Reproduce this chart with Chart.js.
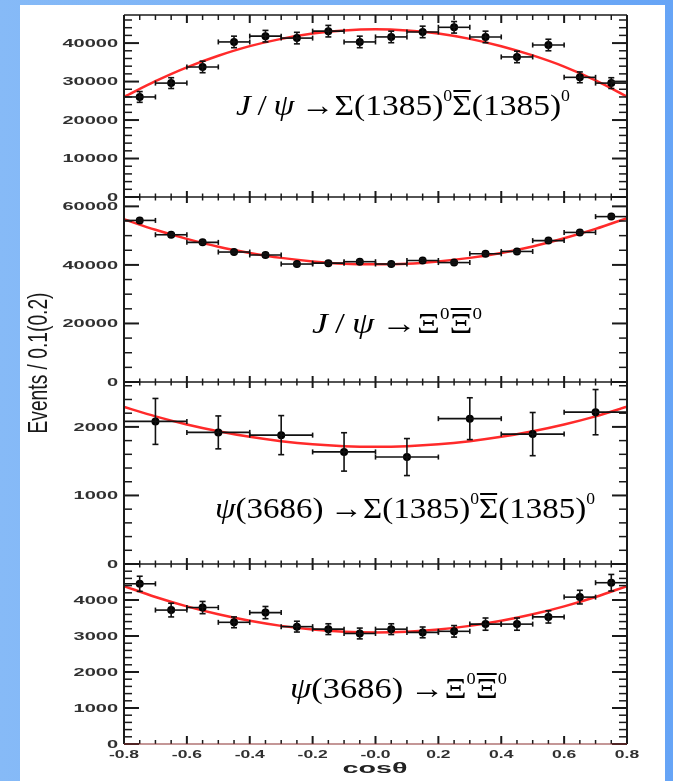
<!DOCTYPE html>
<html>
<head>
<meta charset="utf-8">
<script src="https://cdn.jsdelivr.net/npm/chart.js@4.4.1/dist/chart.umd.min.js"></script>
<style>
  html, body { margin: 0; padding: 0; }
  body { width: 673px; height: 781px; overflow: hidden;
         background: linear-gradient(to right, #86baf7 0%, #78b0f6 50%, #66a4f6 100%); }
  #panel { position: absolute; left: 20px; top: 5px; width: 645px; height: 776px; background: #fff; }
  #chart { position: absolute; left: 0; top: 0; }
</style>
</head>
<body>
<div id="panel"><canvas id="chart" width="645" height="776"></canvas></div>
<script>
// bin centres in cos(theta)
const cosFine = [-0.75, -0.65, -0.55, -0.45, -0.35, -0.25, -0.15, -0.05, 0.05, 0.15, 0.25, 0.35, 0.45, 0.55, 0.65, 0.75];
const cosWide = [-0.7, -0.5, -0.3, -0.1, 0.1, 0.3, 0.5, 0.7];
const cosFit  = [-0.8, -0.7, -0.6, -0.5, -0.4, -0.3, -0.2, -0.1, 0, 0.1, 0.2, 0.3, 0.4, 0.5, 0.6, 0.7, 0.8];

// J/psi -> Sigma(1385)0 anti-Sigma(1385)0
const jpsiSigmaY   = [26000, 29600, 33800, 40300, 41800, 41300, 43100, 40300, 41600, 42900, 44100, 41600, 36400, 39500, 31100, 29600];
const jpsiSigmaErr = [1400, 1400, 1500, 1500, 1500, 1500, 1500, 1500, 1500, 1500, 1500, 1500, 1500, 1500, 1400, 1400];
const jpsiSigmaFit = [26000, 30100, 33700, 36700, 39200, 41100, 42500, 43300, 43600, 43300, 42500, 41100, 39200, 36800, 33900, 30300, 26100];

// J/psi -> Xi0 anti-Xi0
const jpsiXiY   = [55200, 50300, 47700, 44400, 43400, 40300, 40600, 41100, 40300, 41500, 40800, 43800, 44600, 48300, 51100, 56500];
const jpsiXiErr = [600, 600, 600, 600, 600, 600, 600, 600, 600, 600, 600, 600, 600, 600, 600, 600];
const jpsiXiFit = [55600, 52000, 48900, 46200, 44100, 42400, 41200, 40400, 40200, 40400, 41200, 42400, 44100, 46300, 49100, 52300, 56000];

// psi(3686) -> Sigma(1385)0 anti-Sigma(1385)0
const psiSigmaY   = [2080, 1920, 1880, 1635, 1560, 2120, 1895, 2215];
const psiSigmaErr = [335, 240, 285, 280, 270, 305, 315, 330];
const psiSigmaFit = [2290, 2154, 2036, 1937, 1855, 1792, 1746, 1719, 1710, 1719, 1746, 1792, 1855, 1937, 2036, 2154, 2295];

// psi(3686) -> Xi0 anti-Xi0
const psiXiY   = [4450, 3720, 3790, 3380, 3650, 3260, 3190, 3070, 3190, 3100, 3130, 3330, 3330, 3530, 4080, 4480];
const psiXiErr = [210, 190, 170, 150, 170, 150, 150, 150, 150, 150, 160, 170, 170, 170, 190, 230];
const psiXiFit = [4386, 4084, 3823, 3602, 3421, 3281, 3180, 3120, 3100, 3120, 3180, 3281, 3421, 3602, 3823, 4084, 4386];

// axis ticks
const xTickVals   = [-0.8, -0.6, -0.4, -0.2, 0, 0.2, 0.4, 0.6, 0.8];
const xTickLabels = ['-0.8', '-0.6', '-0.4', '-0.2', '-0.0', '0.2', '0.4', '0.6', '0.8'];
const yTicks1 = [0, 10000, 20000, 30000, 40000];
const yTicks2 = [0, 20000, 40000, 60000];
const yTicks3 = [0, 1000, 2000];
const yTicks4 = [0, 1000, 2000, 3000, 4000];

const xTitle = 'cos\u03b8';
const yTitle = 'Events / 0.1(0.2)';

// panel decoration: tick spacing and the formula labels
const SL = '\u2009/\u2009', AR = '\u2009\u2192';
const panels = [
  { axis: 'y1', minor: 2000, major: 10000, fx: 216, fy: 110, fw: 334,
    formula: [{t: 'J', it: 1}, {t: SL}, {t: '\u03c8', it: 1}, {t: AR}, {t: '\u03a3(1385)'}, {t: '0', sup: 1},
              {t: '\u03a3', bar: 1}, {t: '(1385)'}, {t: '0', sup: 1}] },
  { axis: 'y2', minor: 5000, major: 20000, fx: 292, fy: 328, fw: 170,
    formula: [{t: 'J', it: 1}, {t: SL}, {t: '\u03c8', it: 1}, {t: AR}, {t: '\u039e'}, {t: '0', sup: 1},
              {t: '\u039e', bar: 1}, {t: '0', sup: 1}] },
  { axis: 'y3', minor: 200, major: 1000, fx: 195, fy: 513, fw: 380,
    formula: [{t: '\u03c8', it: 1}, {t: '(3686)' + AR}, {t: '\u03a3(1385)'}, {t: '0', sup: 1},
              {t: '\u03a3', bar: 1}, {t: '(1385)'}, {t: '0', sup: 1}] },
  { axis: 'y4', minor: 200, major: 1000, fx: 270, fy: 693, fw: 217,
    formula: [{t: '\u03c8', it: 1}, {t: '(3686)' + AR}, {t: '\u039e'}, {t: '0', sup: 1},
              {t: '\u039e', bar: 1}, {t: '0', sup: 1}] }
];

function pts(xs, ys) { return xs.map((x, i) => ({x: x, y: ys[i]})); }

function fitSet(xs, ys, axis) {
  return { type: 'line', data: pts(xs, ys), yAxisID: axis, order: 2,
    borderColor: '#ff2a2a', borderWidth: 2.5, pointRadius: 0, fill: false,
    cubicInterpolationMode: 'monotone' };
}
function dataSet(xs, ys, err, half, axis) {
  return { type: 'line', data: pts(xs, ys), yAxisID: axis, order: 1, showLine: false,
    errY: err, halfW: half,
    pointRadius: 4, pointHoverRadius: 4, pointBackgroundColor: '#000', pointBorderWidth: 0 };
}

function yAxis(ticks, max, weight, sw) {
  return { type: 'linear', position: 'left', stack: 'panels', stackWeight: sw, weight: weight,
    min: 0, max: max,
    grid: { display: false }, border: { display: false }, ticks: { display: false },
    afterBuildTicks: s => { s.ticks = ticks.map(v => ({ value: v })); },
    afterFit: s => { s.width = 104; } };
}

function stretchText(ctx, text, x, y, sx, align) {
  ctx.save();
  ctx.translate(x, y);
  ctx.scale(sx, 1);
  ctx.textAlign = align;
  ctx.fillText(text, 0, 0);
  ctx.restore();
}

function line(ctx, x1, y1, x2, y2) {
  ctx.beginPath(); ctx.moveTo(x1, y1); ctx.lineTo(x2, y2); ctx.stroke();
}

const errorBars = {
  id: 'errorBars',
  afterDatasetsDraw(chart) {
    const ctx = chart.ctx, xs = chart.scales.x;
    ctx.save();
    ctx.strokeStyle = '#111';
    ctx.lineWidth = 1.6;
    chart.data.datasets.forEach(ds => {
      if (!ds.errY) return;
      const ys = chart.scales[ds.yAxisID];
      ds.data.forEach((p, i) => {
        const x0 = xs.getPixelForValue(p.x - ds.halfW), x1 = xs.getPixelForValue(p.x + ds.halfW);
        const xc = xs.getPixelForValue(p.x), yc = ys.getPixelForValue(p.y);
        const yt = ys.getPixelForValue(p.y + ds.errY[i]), yb = ys.getPixelForValue(p.y - ds.errY[i]);
        line(ctx, x0, yc, x1, yc);
        line(ctx, x0, yc - 2.5, x0, yc + 2.5);
        line(ctx, x1, yc - 2.5, x1, yc + 2.5);
        line(ctx, xc, yt, xc, yb);
        line(ctx, xc - 3, yt, xc + 3, yt);
        line(ctx, xc - 3, yb, xc + 3, yb);
      });
    });
    ctx.restore();
  }
};

const frame = {
  id: 'frame',
  afterDraw(chart) {
    const ctx = chart.ctx, xs = chart.scales.x;
    const L = chart.chartArea.left, R = chart.chartArea.right;
    const T = chart.chartArea.top, B = chart.chartArea.bottom;
    ctx.save();
    ctx.strokeStyle = '#1a1a1a';

    // y ticks on both sides, labels on the left
    panels.forEach(p => {
      const s = chart.scales[p.axis];
      for (let k = 0; k * p.minor <= s.max; k++) {
        const v = k * p.minor;
        const y = s.getPixelForValue(v);
        const major = (v % p.major) === 0;
        const len = major ? 15 : 8;
        ctx.lineWidth = major ? 2 : 1.5;
        line(ctx, L, y, L + len, y);
        line(ctx, R, y, R - len, y);
      }
      ctx.fillStyle = '#303030';
      ctx.font = 'bold 10px "Liberation Sans", Arial, sans-serif';
      ctx.textBaseline = 'alphabetic';
      s.ticks.forEach(t => {
        stretchText(ctx, String(t.value), 98, s.getPixelForValue(t.value) + 3.6, 2, 'right');
      });
    });

    // x ticks on every panel edge
    const edges = [chart.scales.y1.top, chart.scales.y1.bottom, chart.scales.y2.bottom, chart.scales.y3.bottom, B];
    for (let k = 1; k < 32; k++) {
      const v = -0.8 + k * 0.05;
      const x = xs.getPixelForValue(v);
      const major = k % 4 === 0;
      ctx.lineWidth = major ? 2 : 1.5;
      edges.forEach((y, j) => {
        if (j === 0) line(ctx, x, y, x, y + (major ? 8 : 5));
        else if (j === edges.length - 1) line(ctx, x, y, x, y - (major ? 8 : 4));
        else line(ctx, x, y - (major ? 6 : 3.5), x, y + (major ? 6 : 3.5));
      });
    }

    // frame
    ctx.lineWidth = 1.5;
    edges.forEach((y, j) => { if (j > 0 && j < edges.length - 1) line(ctx, L, y, R, y); });
    line(ctx, L, T, R, T);
    ctx.lineWidth = 2;
    line(ctx, L, T, L, B);
    line(ctx, R, T, R, B);
    ctx.strokeStyle = '#8a3030';
    ctx.lineWidth = 1.2;
    line(ctx, L, B, R, B);

    // x tick labels and title
    ctx.fillStyle = '#303030';
    ctx.font = 'bold 10px "Liberation Sans", Arial, sans-serif';
    xs.ticks.forEach((t, i) => {
      stretchText(ctx, xTickLabels[i], xs.getPixelForValue(t.value), 752.5, 1.75, 'center');
    });
    ctx.fillStyle = '#222';
    ctx.font = 'bold 15px "Liberation Sans", Arial, sans-serif';
    const tw = ctx.measureText(xTitle).width;
    stretchText(ctx, xTitle, 355, 768, 65 / tw, 'center');

    // y title, rotated
    ctx.font = '19px "Liberation Sans", Arial, sans-serif';
    const yw = ctx.measureText(yTitle).width;
    ctx.save();
    ctx.translate(27, 358);
    ctx.rotate(-Math.PI / 2);
    ctx.scale(141 / yw, 1.5);
    ctx.textAlign = 'center';
    ctx.textBaseline = 'alphabetic';
    ctx.fillStyle = '#1a1a1a';
    ctx.fillText(yTitle, 0, 0);
    ctx.restore();

    // decay formulas
    panels.forEach(p => drawFormula(ctx, p.formula, p.fx, p.fy, p.fw));
    ctx.restore();
  }
};

function fontFor(part) {
  if (part.sup) return '16px "Liberation Serif", "Times New Roman", serif';
  if (part.it) return 'italic 30px "Liberation Serif", "Times New Roman", serif';
  return '30px "Liberation Serif", "Times New Roman", serif';
}

function drawFormula(ctx, parts, x, base, width) {
  let total = 0;
  const ws = parts.map(p => { ctx.font = fontFor(p); const w = ctx.measureText(p.t).width; total += w; return w; });
  ctx.save();
  ctx.translate(x, base);
  ctx.scale(width / total, 1);
  ctx.fillStyle = '#000';
  ctx.textAlign = 'left';
  ctx.textBaseline = 'alphabetic';
  let cx = 0;
  parts.forEach((p, i) => {
    ctx.font = fontFor(p);
    ctx.fillText(p.t, cx, p.sup ? -14 : 0);
    if (p.bar) {
      const asc = ctx.measureText(p.t).actualBoundingBoxAscent;
      ctx.fillRect(cx + 1, -asc - 6, ws[i] - 2, 2);
    }
    cx += ws[i];
  });
  ctx.restore();
}

new Chart(document.getElementById('chart'), {
  type: 'line',
  data: {
    datasets: [
      fitSet(cosFit, jpsiSigmaFit, 'y1'),
      dataSet(cosFine, jpsiSigmaY, jpsiSigmaErr, 0.05, 'y1'),
      fitSet(cosFit, jpsiXiFit, 'y2'),
      dataSet(cosFine, jpsiXiY, jpsiXiErr, 0.05, 'y2'),
      fitSet(cosFit, psiSigmaFit, 'y3'),
      dataSet(cosWide, psiSigmaY, psiSigmaErr, 0.1, 'y3'),
      fitSet(cosFit, psiXiFit, 'y4'),
      dataSet(cosFine, psiXiY, psiXiErr, 0.05, 'y4')
    ]
  },
  options: {
    responsive: false,
    animation: false,
    events: [],
    layout: { padding: { left: 0, top: 10, right: 38, bottom: 0 } },
    plugins: { legend: { display: false }, tooltip: { enabled: false } },
    scales: {
      x: { type: 'linear', min: -0.8, max: 0.8, position: 'bottom',
        grid: { display: false }, border: { display: false }, ticks: { display: false },
        afterBuildTicks: s => { s.ticks = xTickVals.map(v => ({ value: v })); },
        afterFit: s => { s.height = 37; } },
      y1: yAxis(yTicks1, 47300, 4, 182),
      y2: yAxis(yTicks2, 63200, 3, 185),
      y3: yAxis(yTicks3, 2655, 2, 182),
      y4: yAxis(yTicks4, 5000, 1, 180)
    }
  },
  plugins: [errorBars, frame]
});
</script>
</body>
</html>
